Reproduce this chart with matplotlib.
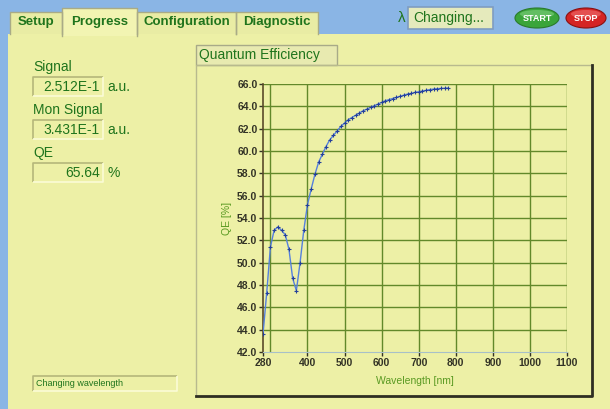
import matplotlib
matplotlib.use("Agg")
import matplotlib.pyplot as plt
from matplotlib.patches import Rectangle, Ellipse

plt.rcParams["font.family"] = ["Liberation Sans", "DejaVu Sans"]

wavelength = [280, 290, 300, 310, 320, 330, 340, 350, 360, 370,
              380, 390, 400, 410, 420, 430, 440, 450, 460, 470,
              480, 490, 500, 510, 520, 530, 540, 550, 560, 570,
              580, 590, 600, 610, 620, 630, 640, 650, 660, 670,
              680, 690, 700, 710, 720, 730, 740, 750, 760, 770, 780]
qe = [43.6, 47.3, 51.4, 52.9, 53.2, 52.9, 52.5, 51.2, 48.6, 47.5,
      50.0, 52.9, 55.2, 56.6, 57.9, 59.0, 59.7, 60.4, 61.0, 61.4,
      61.8, 62.2, 62.5, 62.8, 63.0, 63.2, 63.4, 63.6, 63.75, 63.9,
      64.05, 64.2, 64.35, 64.5, 64.6, 64.7, 64.8, 64.9, 65.0, 65.1,
      65.15, 65.25, 65.3, 65.37, 65.43, 65.5, 65.54, 65.58, 65.6, 65.62, 65.64]

x_ticks = [280, 400, 500, 600, 700, 800, 900, 1000, 1100]
x_grid = [300, 400, 500, 600, 700, 800, 900, 1000, 1100]
y_ticks = [42, 44, 46, 48, 50, 52, 54, 56, 58, 60, 62, 64, 66]

tabs = ["Setup", "Progress", "Configuration", "Diagnostic"]
readouts = [("Signal", "2.512E-1", "a.u."),
            ("Mon Signal", "3.431E-1", "a.u."),
            ("QE", "65.64", "%")]

BLUE = "#8ab5e5"
PANEL = "#edf0a6"
GREEN_TXT = "#1f741c"
GRID = "#62892a"
DARK = "#333326"

fig = plt.figure(figsize=(6.1, 4.09), dpi=100)
bg = fig.add_axes([0, 0, 1, 1])
bg.set_xlim(0, 610)
bg.set_ylim(409, 0)
bg.axis("off")


def box(x0, y0, x1, y1, fill=PANEL, dark="#b5b77a", light="#fbfbd6", lw=1.2):
    bg.add_patch(Rectangle((x0, y0), x1 - x0, y1 - y0, facecolor=fill, edgecolor="none"))
    bg.plot([x0, x0, x1], [y1, y0, y0], color=dark, lw=lw, solid_capstyle="butt")
    bg.plot([x0, x1, x1], [y1, y1, y0], color=light, lw=lw, solid_capstyle="butt")


# window background + panel
bg.add_patch(Rectangle((0, 0), 610, 409, facecolor=BLUE, edgecolor="none"))
bg.add_patch(Rectangle((8, 34), 602, 375, facecolor=PANEL, edgecolor="none"))

# tabs
tab_x = [(10, 62), (62, 137), (137, 236), (236, 318)]
for (x0, x1), name in zip(tab_x, tabs):
    active = name == "Progress"
    top = 8 if active else 12
    bottom = 36 if active else 34
    fill = "#f2f4b2" if active else "#e9eca4"
    bg.add_patch(Rectangle((x0, top), x1 - x0, bottom - top, facecolor=fill,
                           edgecolor="none", zorder=2))
    bg.plot([x0, x0, x1, x1], [bottom, top, top, bottom], color="#a9ab86",
            lw=1, zorder=3)
    bg.text((x0 + x1) / 2, 22, name, ha="center", va="center", fontsize=9.5,
            fontweight="bold", color=GREEN_TXT, zorder=4)

# lambda readout and buttons
bg.text(402, 18, "λ", ha="center", va="center", fontsize=11, color=GREEN_TXT)
bg.add_patch(Rectangle((408, 7), 85, 22, facecolor="#e5eabc", edgecolor="#7f9cc0", lw=1.2))
bg.text(413, 18, "Changing...", ha="left", va="center", fontsize=10, color=GREEN_TXT)

bg.add_patch(Ellipse((537, 18), 44, 20, facecolor="#3aa53a", edgecolor="#2a7a2a", lw=0.8))
bg.add_patch(Ellipse((537, 14), 34, 8, facecolor="#7fd07f", edgecolor="none", alpha=0.6))
bg.text(537, 18.5, "START", ha="center", va="center", fontsize=6.5,
        fontweight="bold", color="white")
bg.add_patch(Ellipse((586, 18), 40, 20, facecolor="#d42424", edgecolor="#8a1010", lw=0.8))
bg.add_patch(Ellipse((586, 14), 30, 8, facecolor="#f07070", edgecolor="none", alpha=0.6))
bg.text(586, 18.5, "STOP", ha="center", va="center", fontsize=6.5,
        fontweight="bold", color="white")

# left readouts
for i, (label, value, unit) in enumerate(readouts):
    y = 67 + i * 43
    bg.text(33, y, label, ha="left", va="center", fontsize=10, color=GREEN_TXT)
    box(33, y + 10, 103, y + 29)
    bg.text(100, y + 20, value, ha="right", va="center", fontsize=10, color=GREEN_TXT)
    bg.text(107, y + 20, unit, ha="left", va="center", fontsize=10, color=GREEN_TXT)

# status line
box(33, 376, 177, 391)
bg.text(36, 383.5, "Changing wavelength", ha="left", va="center", fontsize=6.5,
        color=GREEN_TXT)

# graph frame
bg.add_patch(Rectangle((196, 45), 141, 20, facecolor="#e8eab0", edgecolor="#a8aa88", lw=1))
bg.text(199, 55, "Quantum Efficiency", ha="left", va="center", fontsize=10,
        color=GREEN_TXT)
bg.plot([196, 196, 592], [396, 65, 65], color="#b8ba8e", lw=1)
bg.plot([196, 592, 592], [396, 396, 65], color="#2e2e22", lw=2)

# plot
ax = fig.add_axes([263 / 610, (409 - 352) / 409, 304 / 610, 268 / 409])
ax.set_facecolor("none")
for xv in x_grid:
    ax.axvline(xv, color=GRID, lw=1, zorder=1)
for yv in y_ticks[1:]:
    ax.axhline(yv, color=GRID, lw=1, zorder=1)

ax.plot(wavelength, qe, color="#5580dc", lw=1, marker="+", ms=3.5, mew=0.8,
        mec="#243f9a", zorder=3)

ax.set_xlim(280, 1100)
ax.set_ylim(42, 66)
ax.set_xticks(x_ticks)
ax.set_yticks(y_ticks)
ax.set_yticklabels([f"{v:.1f}" for v in y_ticks])
ax.tick_params(direction="out", length=3, width=1, color=DARK, labelsize=7.5,
               labelcolor=DARK, pad=1)
for lbl in ax.get_xticklabels() + ax.get_yticklabels():
    lbl.set_fontweight("bold")

ax.spines["left"].set_color("#5a4a2a")
ax.spines["left"].set_linewidth(1.2)
ax.spines["bottom"].set_color("#a8c0c8")
ax.spines["bottom"].set_linewidth(0.8)
ax.spines["top"].set_visible(False)
ax.spines["right"].set_visible(False)

ax.set_xlabel("Wavelength [nm]", fontsize=7.5, color="#5a9a22", labelpad=6)
ax.set_ylabel("QE [%]", fontsize=7.5, color="#5a9a22", labelpad=4)

fig.savefig("out.png", dpi=100)
